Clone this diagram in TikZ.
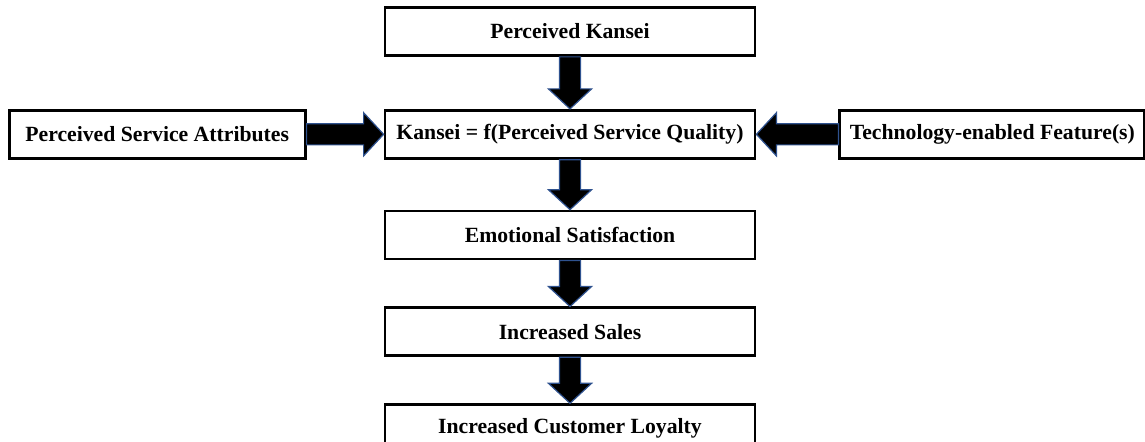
\documentclass[tikz,border=0pt]{standalone}
\usepackage{fontspec}
\setmainfont{Liberation Serif}
\usetikzlibrary{calc,positioning}
\definecolor{arrowblue}{RGB}{47,82,143}
\newcommand{\shaftw}{5.3pt}
\newcommand{\headw}{10.8pt}
\newcommand{\headl}{10pt}
\tikzstyle{box}=[draw, line width=1.4pt, minimum width=185pt, minimum height=24pt, inner sep=0pt, font=\bfseries\fontsize{10.85}{13}\selectfont]
\tikzstyle{fat}=[draw=arrowblue, fill=black, line width=0.6pt, to path={
  ($(\tikztostart)!\shaftw!90:(\tikztotarget)$)
  -- ($($(\tikztotarget)!\headl!(\tikztostart)$)!\shaftw!90:(\tikztotarget)$)
  -- ($($(\tikztotarget)!\headl!(\tikztostart)$)!\headw!90:(\tikztotarget)$)
  -- (\tikztotarget)
  -- ($($(\tikztotarget)!\headl!(\tikztostart)$)!\headw!-90:(\tikztotarget)$)
  -- ($($(\tikztotarget)!\headl!(\tikztostart)$)!\shaftw!-90:(\tikztotarget)$)
  -- ($(\tikztostart)!\shaftw!-90:(\tikztotarget)$) -- cycle}]

\begin{document}
\begin{tikzpicture}[x=0.5pt,y=-0.5pt,node distance=25pt]
    \useasboundingbox (0,0) rectangle (1145,442);
    \node [box] (pk) at (570,31.5) {Perceived Kansei};
    \node [box] (ks) [below=26pt of pk] {Kansei = f(Perceived Service Quality)};
    \node [box, minimum width=148pt] (psa) [left=38.5pt of ks] {Perceived Service Attributes};
    \node [box, minimum width=152.5pt] (tef) [right=41pt of ks] {Technology-enabled Feature(s)};
    \node [box] (es) [below=of ks] {Emotional Satisfaction};
    \node [box] (is) [below=23pt of es] {Increased Sales};
    \node [box] (icl) [below=23pt of is] {Increased Customer Loyalty};
    \draw [fat] (pk.south) to (ks.north);
    \draw [fat] (psa.east) to (ks.west);
    \draw [fat] (tef.west) to (ks.east);
    \draw [fat] (ks.south) to (es.north);
    \draw [fat] (es.south) to (is.north);
    \draw [fat] (is.south) to (icl.north);
\end{tikzpicture}
\end{document}
